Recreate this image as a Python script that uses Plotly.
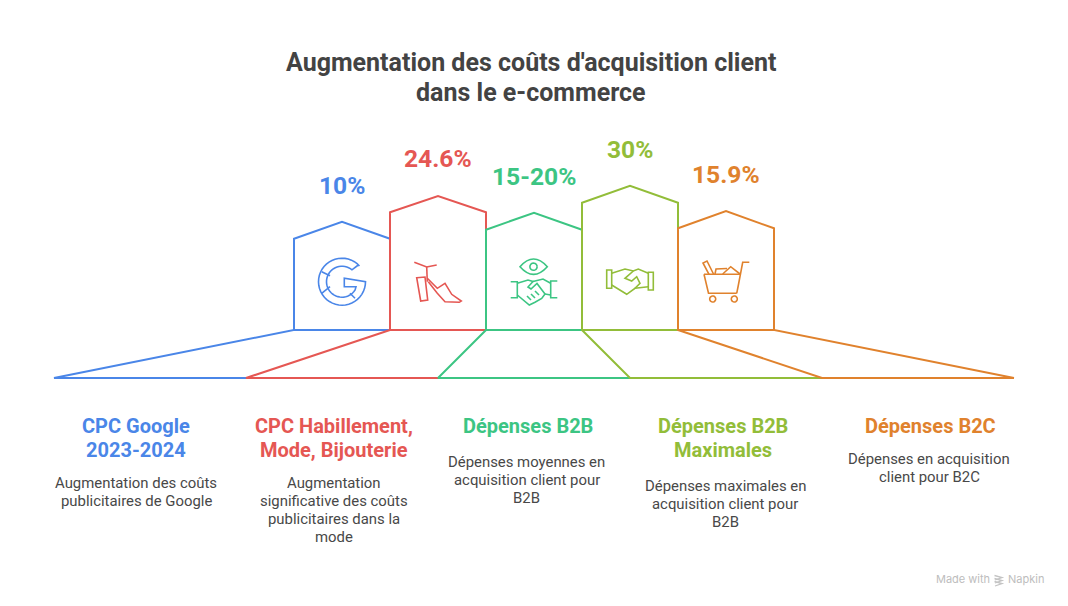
import numpy as np
import plotly.graph_objects as go

W, H = 1068, 606

title_lines = ["Augmentation des coûts d'acquisition client", "dans le e-commerce"]
values = ["10%", "24.6%", "15-20%", "30%", "15.9%"]
colors = ["#4A86E8", "#E55753", "#3CC583", "#92BD39", "#E0822D"]
headings = [
    ["CPC Google", "2023-2024"],
    ["CPC Habillement,", "Mode, Bijouterie"],
    ["Dépenses B2B"],
    ["Dépenses B2B", "Maximales"],
    ["Dépenses B2C"],
]
bodies = [
    ["Augmentation des coûts", "publicitaires de Google"],
    ["Augmentation", "significative des coûts", "publicitaires dans la", "mode"],
    ["Dépenses moyennes en", "acquisition client pour", "B2B"],
    ["Dépenses maximales en", "acquisition client pour", "B2B"],
    ["Dépenses en acquisition", "client pour B2C"],
]

# house outlines, in image pixels
house_left = [294, 390, 486, 582, 678]
house_right = [390, 486, 582, 678, 774]
wall_top = [238.7, 212.3, 229.7, 202.7, 228.3]
roof_top = [221.7, 196, 212.7, 185.7, 211]
foot_left = [54, 246, 438, 630, 822]
foot_right = [246, 438, 630, 822, 1014]
base_y = 330
foot_y = 378

value_x = [342, 438, 534, 630, 726]
value_y = [185, 158, 176, 149, 174]
head_x = [135.5, 334, 528, 723, 930]
head_y = [426, 426, 426, 426, 426]
body_x = [136, 334, 526.5, 725, 929]
body_y = [483, 483, 462, 486, 459]


def poly(pts, close=False):
    d = "M" + " L".join(f"{x},{y}" for x, y in pts)
    return d + (" Z" if close else "")


def arc(cx, cy, r, a0, a1, n=40):
    t = np.radians(np.linspace(a0, a1, n))
    return [(round(cx + r * np.cos(a), 2), round(cy + r * np.sin(a), 2)) for a in t]


# icon strokes, one list per house
google = [
    poly(arc(342, 281.7, 23.5, -42, -360) + [(344.3, 278.3), (344.3, 286.7), (356, 286.7)]
         + arc(342, 281.7, 15.5, 25, 310)[1:] + [(358.3, 265)]),
    poly([(321.7, 271.7), (330, 275.7)]),
    poly([(321.7, 293.3), (330, 286.7)]),
    poly([(350, 293.3), (355, 298.3)]),
]
shoe = [
    poly([(414.3, 262.3), (426.7, 267), (436.7, 265)]),
    poly([(426.7, 267), (427.3, 281.7)]),
    poly([(416.7, 277.7), (425, 277), (427.7, 300), (420.7, 301)], close=True),
    poly([(427.3, 278.3), (437.3, 288.3), (445, 283.3), (451.7, 294.3), (461.3, 301),
          (459.3, 302.3), (445, 301.7), (437.3, 293.3), (428.3, 281.7)]),
]
eye_shake = [
    "M520,266.7 Q533.5,251.3 547.3,266.7 Q533.5,282 520,266.7 Z",
    poly(arc(533.5, 266.7, 3.6, 0, 360, 24)),
    poly([(510.7, 281.7), (517.3, 281.7), (517.3, 297.7), (510.7, 297.7)]),
    poly([(557.3, 281), (550.7, 281), (550.7, 297.7), (557.3, 297.7)]),
    poly([(517.3, 283.3), (528, 280), (533, 281.5), (528, 287), (531, 289), (537, 283.5),
          (545, 294), (541.7, 298.5), (535, 302.3), (529.3, 305), (517.3, 295)]),
    poly([(533, 281.5), (543, 279), (550.7, 283.3)]),
    poly([(545, 294), (550.7, 295)]),
    poly([(531, 300), (527, 296)]),
    poly([(535, 298), (531, 294)]),
    poly([(539, 295), (535, 291)]),
]
shake = [
    poly([(606.7, 270), (611.7, 270), (611.7, 288.3), (606.7, 288.3)], close=True),
    poly([(648.3, 272.3), (653.3, 272.3), (653.3, 290), (648.3, 290)], close=True),
    poly([(611.7, 273.3), (625, 269), (633.3, 271), (638.3, 269), (648.3, 273.3)]),
    poly([(611.7, 285), (626.7, 294.3), (635, 288.3), (648.3, 286.7)]),
    poly([(633.3, 271), (625, 278.3), (631.7, 281), (636.7, 276.7), (640, 283.3), (635, 288.3)]),
]
cart = [
    poly([(749.3, 262.3), (742.7, 262.3), (738, 287), (736.7, 293.3)]),
    poly([(704, 274.3), (741, 274.3)]),
    poly([(704, 274.3), (708.5, 293.3), (736.7, 293.3)]),
    poly(arc(712.7, 299, 3, 0, 360, 24)),
    poly(arc(734.3, 299, 3, 0, 360, 24)),
    poly([(709, 274.3), (703, 263), (707, 261), (713.5, 274)]),
    poly([(715, 274), (716, 269), (727, 268.5)]),
    poly([(722.7, 274), (730.7, 266.7), (740, 274)]),
]
icons = [google, shoe, eye_shake, shake, cart]

fig = go.Figure()

for i in range(5):
    mid = (house_left[i] + house_right[i]) / 2
    xs = [foot_right[i], foot_left[i], house_left[i], house_left[i], mid, house_right[i]]
    ys = [foot_y, foot_y, base_y, wall_top[i], roof_top[i], wall_top[i]]
    if i < 4:
        # the next house draws the shared wall and slanted edge, stop where it takes over
        xs.append(house_right[i])
        ys.append(max(wall_top[i], wall_top[i + 1]))
    else:
        xs += [house_right[i], foot_right[i]]
        ys += [base_y, foot_y]
    fig.add_trace(go.Scatter(x=xs, y=ys, mode="lines", name=values[i],
                             line=dict(color=colors[i], width=2), hoverinfo="skip"))
    # floor of the house
    fig.add_trace(go.Scatter(x=[house_left[i], house_right[i]], y=[base_y, base_y], mode="lines",
                             line=dict(color=colors[i], width=2), hoverinfo="skip"))

shapes = []
for color, strokes in zip(colors, icons):
    for d in strokes:
        shapes.append(dict(type="path", path=d, xref="x", yref="y",
                           line=dict(color=color, width=1.6)))

# little Napkin mark in the corner
for k in range(3):
    y0 = 575.5 + k * 3
    shapes.append(dict(type="path", xref="x", yref="y", line=dict(color="#C4C4C4", width=1.3),
                       path=poly([(994.5, y0), (1002, y0 + 2), (995, y0 + 4.5)])))


def put(x, y, text, size, color, bold=False, font="Roboto"):
    fig.add_annotation(x=x, y=y, xref="x", yref="y", text=f"<b>{text}</b>" if bold else text,
                       showarrow=False, xanchor="center", yanchor="middle",
                       font=dict(family=font, size=size, color=color))


put(531, 62, title_lines[0], 25, "#434343", bold=True)
put(531, 92, title_lines[1], 25, "#434343", bold=True)

for i in range(5):
    put(value_x[i], value_y[i], values[i], 24.6, colors[i], bold=True)
    for j, line in enumerate(headings[i]):
        put(head_x[i], head_y[i] + j * 24, line, 20, colors[i], bold=True)
    for j, line in enumerate(bodies[i]):
        put(body_x[i], body_y[i] + j * 18, line, 14.9, "#484848")

put(962.5, 578.5, "Made with", 11, "#BDBDBD", font="Inter")
put(1026, 578.5, "Napkin", 11, "#BDBDBD", font="Inter")

fig.update_layout(
    width=W, height=H, margin=dict(l=0, r=0, t=0, b=0),
    paper_bgcolor="white", plot_bgcolor="white", showlegend=False, shapes=shapes,
    xaxis=dict(range=[0, W], visible=False, fixedrange=True),
    yaxis=dict(range=[H, 0], visible=False, fixedrange=True),
)

fig.write_html("out.html", config={"displayModeBar": False},
               post_script="document.body.style.margin='0';")
